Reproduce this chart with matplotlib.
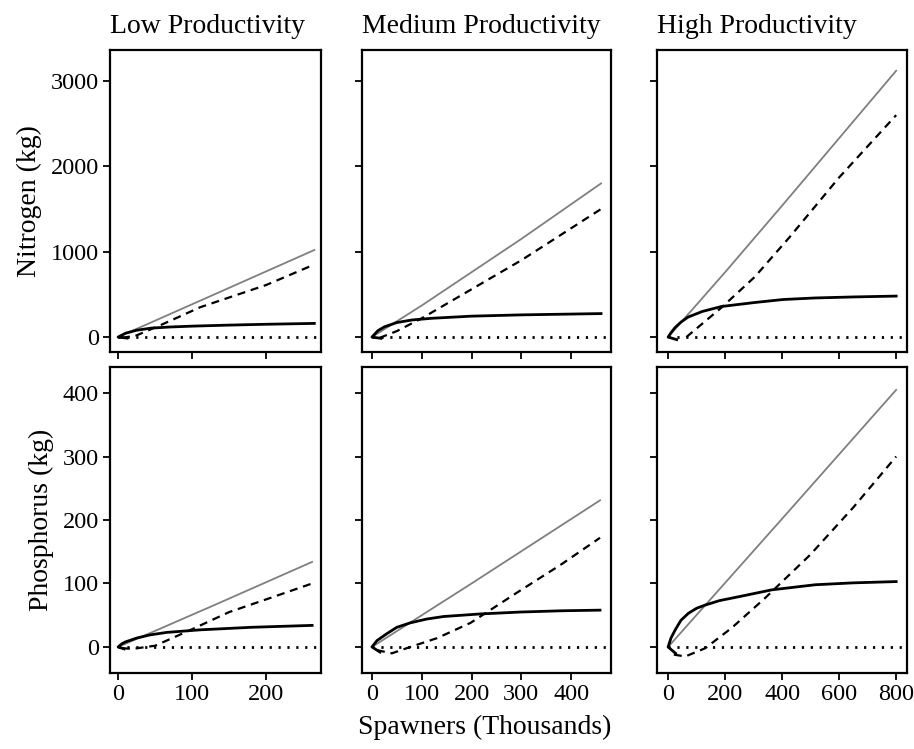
import numpy as np
import matplotlib.pyplot as plt

plt.rcParams['font.family'] = ['Liberation Serif', 'DejaVu Serif']

titles = ['Low Productivity', 'Medium Productivity', 'High Productivity']
ylabels = ['Nitrogen (kg)', 'Phosphorus (kg)']

# x limits and ticks per column
xlims = [(-11, 274), (-20, 480), (-39, 838)]
xticks = [[0, 100, 200], [0, 100, 200, 300, 400], [0, 200, 400, 600, 800]]
# y limits and ticks per row
ylims = [(-175, 3363), (-41, 441)]
yticks = [[0, 1000, 2000, 3000], [0, 100, 200, 300, 400]]

# --- Nitrogen ---
n_low_gray_x = [0, 130, 265]
n_low_gray_y = [0, 500, 1020]
n_low_dash_x = [5, 25, 60, 111, 200, 265]
n_low_dash_y = [-10, 20, 150, 350, 610, 850]
n_low_black_x = [12, 0, 10, 25, 45, 70, 100, 150, 200, 265]
n_low_black_y = [-12, 0, 45, 80, 105, 118, 128, 140, 150, 160]

n_med_gray_x = [0, 100, 200, 300, 460]
n_med_gray_y = [0, 370, 760, 1150, 1800]
n_med_dash_x = [15, 50, 100, 200, 300, 460]
n_med_dash_y = [-10, 70, 220, 560, 900, 1500]
n_med_black_x = [18, 0, 12, 25, 50, 80, 120, 200, 300, 460]
n_med_black_y = [-15, 0, 75, 120, 170, 200, 220, 245, 260, 275]

n_high_gray_x = [0, 200, 400, 600, 800]
n_high_gray_y = [0, 760, 1540, 2330, 3120]
n_high_dash_x = [64, 187, 304, 427, 600, 800]
n_high_dash_y = [0, 345, 705, 1174, 1870, 2600]
n_high_black_x = [30, 0, 10, 24, 45, 70, 120, 187, 304, 404, 515, 650, 800]
n_high_black_y = [-30, 0, 50, 110, 175, 234, 300, 358, 405, 440, 458, 470, 480]

# --- Phosphorus ---
p_low_gray_x = [0, 130, 262]
p_low_gray_y = [0, 66, 134]
p_low_dash_x = [5, 20, 50, 100, 150, 200, 262]
p_low_dash_y = [-2, -3, 2, 28, 55, 75, 100]
p_low_black_x = [8, 0, 5, 10, 25, 43, 66, 111, 180, 262]
p_low_black_y = [-3, 0, 5, 8, 14, 19, 23, 27, 31, 34]

p_med_gray_x = [0, 200, 458]
p_med_gray_y = [0, 100, 231]
p_med_dash_x = [10, 40, 77, 131, 198, 294, 380, 458]
p_med_dash_y = [-5, -10, 0, 14, 38, 87, 130, 172]
p_med_black_x = [16, 0, 10, 30, 50, 77, 110, 144, 217, 297, 380, 458]
p_med_black_y = [-8, 0, 10, 21, 31, 38, 44, 48, 52, 55, 57, 58]

p_high_gray_x = [0, 400, 800]
p_high_gray_y = [0, 202, 405]
p_high_dash_x = [20, 60, 130, 223, 340, 498, 650, 800]
p_high_dash_y = [-12, -15, -2, 30, 77, 145, 220, 300]
p_high_black_x = [26, 0, 10, 25, 45, 71, 100, 130, 180, 246, 364, 516, 650, 800]
p_high_black_y = [-10, 0, 14, 27, 42, 53, 61, 66, 73, 79, 90, 98, 101, 103]

series = [
    [(n_low_gray_x, n_low_gray_y, n_low_dash_x, n_low_dash_y, n_low_black_x, n_low_black_y),
     (n_med_gray_x, n_med_gray_y, n_med_dash_x, n_med_dash_y, n_med_black_x, n_med_black_y),
     (n_high_gray_x, n_high_gray_y, n_high_dash_x, n_high_dash_y, n_high_black_x, n_high_black_y)],
    [(p_low_gray_x, p_low_gray_y, p_low_dash_x, p_low_dash_y, p_low_black_x, p_low_black_y),
     (p_med_gray_x, p_med_gray_y, p_med_dash_x, p_med_dash_y, p_med_black_x, p_med_black_y),
     (p_high_gray_x, p_high_gray_y, p_high_dash_x, p_high_dash_y, p_high_black_x, p_high_black_y)],
]

W, H = 914, 749
col_px = [(110, 321), (362, 611), (657, 907)]
row_px = [(50, 352), (367, 673)]

fig = plt.figure(figsize=(W / 100, H / 100), dpi=100)

for r in range(2):
    for c in range(3):
        x0, x1 = col_px[c]
        y0, y1 = row_px[r]
        ax = fig.add_axes([x0 / W, 1 - y1 / H, (x1 - x0) / W, (y1 - y0) / H])
        gx, gy, dx, dy, bx, by = series[r][c]
        ax.plot([0, xlims[c][1]], [0, 0], color='black', lw=2.0, ls=(0, (0.8, 2.4)))
        ax.plot(gx, gy, color='#7f7f7f', lw=1.3)
        ax.plot(dx, dy, color='black', lw=1.6, ls=(0, (3.6, 2.6)))
        ax.plot(bx, by, color='black', lw=2.0, solid_joinstyle='round')
        ax.set_xlim(*xlims[c])
        ax.set_ylim(*ylims[r])
        ax.set_xticks(xticks[c])
        ax.set_yticks(yticks[r])
        for s in ax.spines.values():
            s.set_linewidth(1.6)
        ax.tick_params(direction='out', length=5, width=1.3, labelsize=17.5, pad=3)
        if r == 1:
            ax.set_xticklabels([str(v) for v in xticks[c]])
        else:
            ax.set_xticklabels([])
            ax.set_title(titles[c], loc='left', fontsize=20, pad=12)
        if c == 0:
            ax.set_ylabel(ylabels[r], fontsize=20, labelpad=6)
        else:
            ax.set_yticklabels([])

fig.text(485 / W, 1 - 727 / H, 'Spawners (Thousands)', ha='center', va='center', fontsize=20)

fig.savefig('out.png', dpi=100)
